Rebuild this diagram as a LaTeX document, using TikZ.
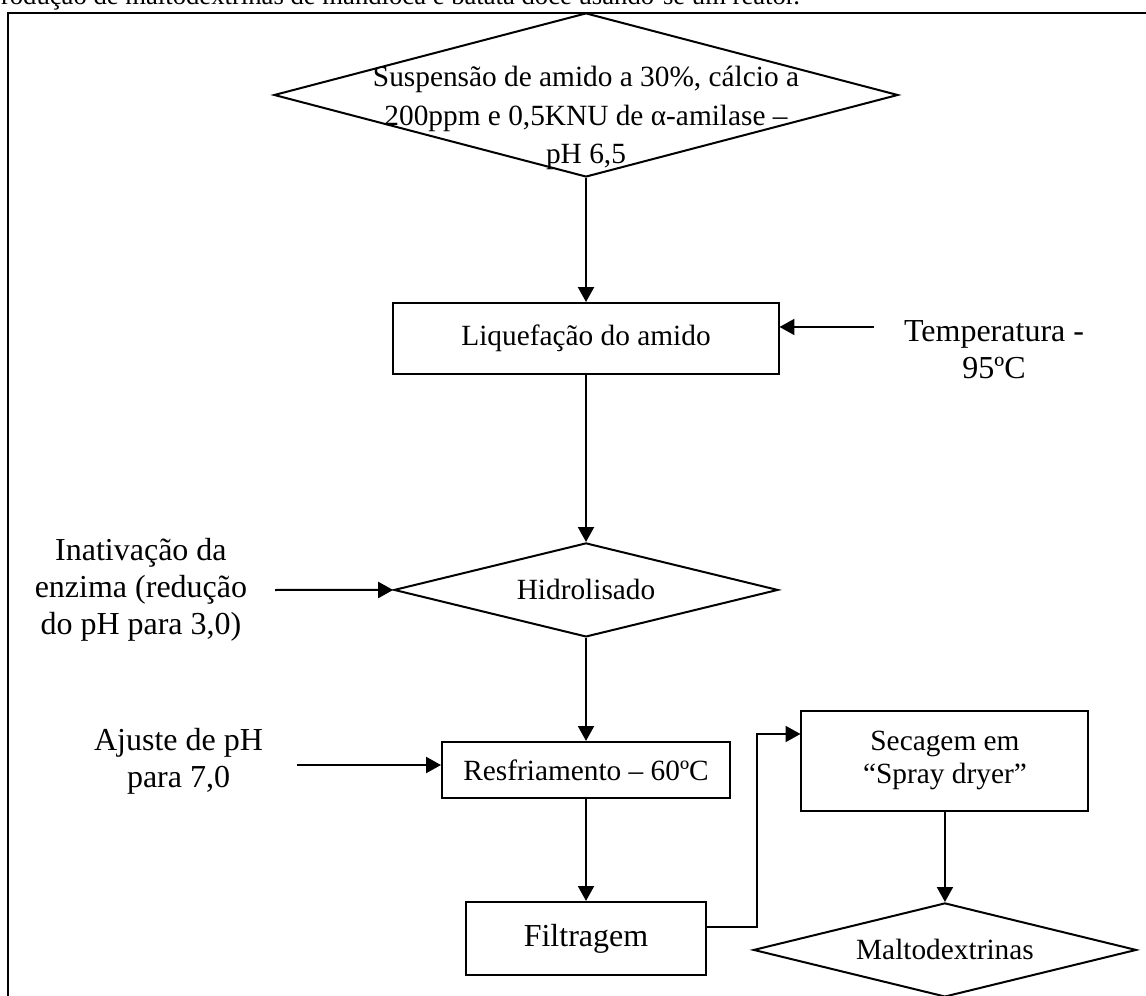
\documentclass[tikz,border=0pt]{standalone}
\usepackage{fontspec}
\setmainfont{Liberation Serif}
\usetikzlibrary{arrows.meta,positioning,shapes.geometric}

\begin{document}
\begin{tikzpicture}[x=0.375pt, y=-0.375pt, line width=0.75pt, on grid,
	>={Triangle[length=5.6pt,width=6pt]},
	box/.style={draw, rectangle, inner sep=0pt, font=\fontsize{11}{13}\selectfont},
	decision/.style={draw, diamond, aspect=4, inner sep=0pt, minimum width=144pt, minimum height=35.25pt, font=\fontsize{11}{13}\selectfont},
	side/.style={align=center, inner sep=0pt, font=\fontsize{12}{13.9}\selectfont}]
	\useasboundingbox (0,0) rectangle (1146,996);
	\draw (8,1010) -- (8,13) -- (1160,13);
	\node[anchor=base west, inner sep=0pt, font=\fontsize{10}{12}\selectfont](title) at (0,5){rodução de maltodextrinas de mandioca e batata doce usando-se um reator.};
	
	\node[decision, minimum width=234pt, minimum height=61.5pt](start) at (586,95){};
	\node[align=center, inner sep=0pt, font=\fontsize{11}{14.6}\selectfont](starttext) at (586,118){Suspensão de amido a 30\%, cálcio a\\200ppm e 0,5KNU de α-amilase –\\pH 6,5};
	\node[box, minimum width=144.4pt, minimum height=26.6pt, below = 91.3pt of start](liq){Liquefação do amido};
	\node[decision, below = 94.3pt of liq](hid){Hidrolisado};
	\node[box, minimum width=108pt, minimum height=21pt, below = 67.5pt of hid](res){Resfriamento – 60ºC};
	\node[box, minimum width=90pt, minimum height=27.4pt, font=\fontsize{12}{14}\selectfont, below = 63.2pt of res](filt){Filtragem};
	\node[box, align=center, minimum width=107.6pt, minimum height=37.5pt, font=\fontsize{11}{12.4}\selectfont, above right = 66.6pt and 134.6pt of filt](sec){Secagem em\\“Spray dryer”};
	\node[decision, minimum width=143.6pt, below = 70.9pt of sec](malto){Maltodextrinas};
	
	\node[side, right = 153pt of liq, yshift=-4.3pt](temp){Temperatura -\\95ºC};
	\node[side, left = 166.9pt of hid](inat){Inativação da\\enzima (redução\\do pH para 3,0)};
	\node[side, left = 152.8pt of res, yshift=3.4pt](ajuste){Ajuste de pH\\para 7,0};
	
	\coordinate (tempin) at (874,327);
	\coordinate (inatout) at (275,590);
	\coordinate (ajout) at (297,765);
	\coordinate (turn) at (757,734);
	
	\path[->] (start) edge (liq)
	(liq) edge (hid)
	(hid) edge (res)
	(res) edge (filt)
	(sec) edge (malto)
	(tempin) edge (tempin -| liq.east)
	(inatout) edge (hid)
	(ajout) edge (ajout -| res.west);
	\draw[->] ([yshift=4.3pt]filt.east) -| (turn) -- (turn -| sec.west);
\end{tikzpicture}
\end{document}
